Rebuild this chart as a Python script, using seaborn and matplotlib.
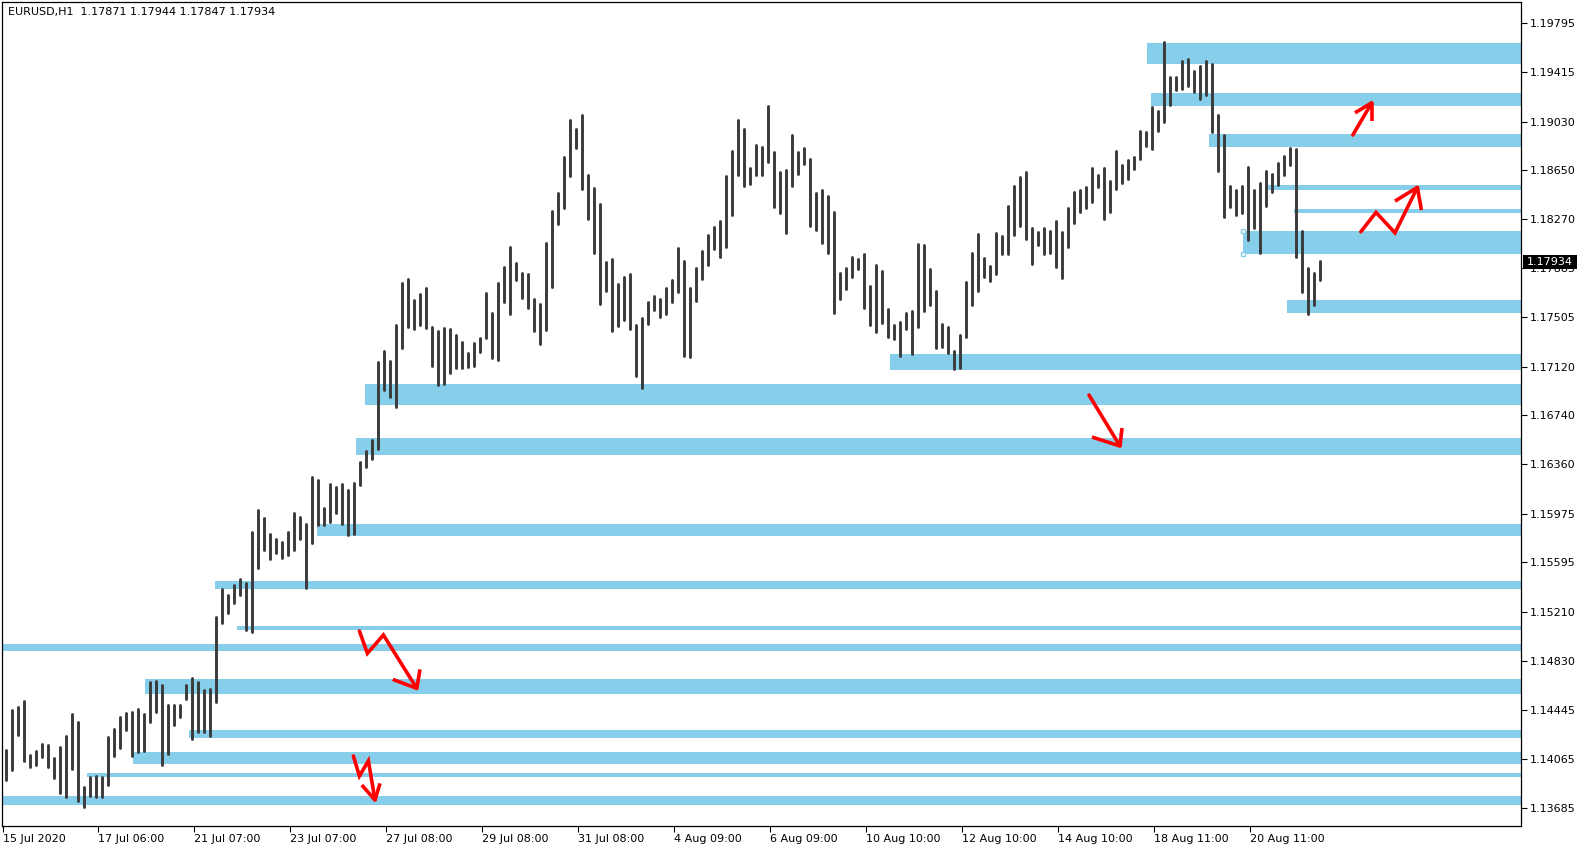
import numpy as np
import pandas as pd
import matplotlib
matplotlib.use("Agg")
import matplotlib.pyplot as plt
import seaborn as sns

# EURUSD H1 chart, bars grouped by 3 hours
symbol_info = "EURUSD,H1  1.17871 1.17944 1.17847 1.17934"
last_close = 1.17934

highs = [
    1.14134, 1.14445, 1.14471, 1.14515, 1.14095, 1.14126, 1.14178, 1.14170, 1.14074, 1.14155,
    1.14243, 1.14416, 1.14352, 1.13846, 1.13923, 1.13929, 1.13923, 1.14238, 1.14297, 1.14391,
    1.14422, 1.14430, 1.14451, 1.14414, 1.14664, 1.14674, 1.14640, 1.14484, 1.14482, 1.14484,
    1.14638, 1.14695, 1.14664, 1.14601, 1.14609, 1.15173, 1.15385, 1.15341, 1.15419, 1.15463,
    1.15437, 1.15834, 1.16003, 1.15938, 1.15816, 1.15780, 1.15757, 1.15832, 1.15982, 1.15946,
    1.15897, 1.16258, 1.16237, 1.16021, 1.16206, 1.16185, 1.16208, 1.16159, 1.16216, 1.16380,
    1.16460, 1.16549, 1.17159, 1.17245, 1.17167, 1.17445, 1.17774, 1.17800, 1.17639, 1.17684,
    1.17733, 1.17432, 1.17400, 1.17418, 1.17413, 1.17366, 1.17312, 1.17229, 1.17307, 1.17345,
    1.17696, 1.17540, 1.17774, 1.17899, 1.18052, 1.17930, 1.17852, 1.17841, 1.17647, 1.17608,
    1.18083, 1.18332, 1.18470, 1.18756, 1.19041, 1.18969, 1.19080, 1.18613, 1.18509, 1.18387,
    1.17932, 1.17958, 1.17761, 1.17818, 1.17841, 1.17444, 1.17499, 1.17623, 1.17670, 1.17647,
    1.17732, 1.17795, 1.18047, 1.17943, 1.17730, 1.17891, 1.18021, 1.18148, 1.18208, 1.18257,
    1.18605, 1.18800, 1.19041, 1.18974, 1.18665, 1.18844, 1.18834, 1.19150, 1.18792, 1.18636,
    1.18652, 1.18924, 1.18795, 1.18823, 1.18737, 1.18470, 1.18496, 1.18449, 1.18325, 1.17849,
    1.17891, 1.17971, 1.17956, 1.17997, 1.17748, 1.17914, 1.17865, 1.17566, 1.17442, 1.17468,
    1.17540, 1.17556, 1.18073, 1.18065, 1.17880, 1.17709, 1.17449, 1.17431, 1.17239, 1.17370,
    1.17782, 1.18008, 1.18154, 1.17964, 1.17907, 1.18161, 1.18138, 1.18372, 1.18528, 1.18600,
    1.18634, 1.18198, 1.18172, 1.18198, 1.18180, 1.18255, 1.18169, 1.18356, 1.18483, 1.18496,
    1.18520, 1.18668, 1.18616, 1.18668, 1.18567, 1.18800, 1.18691, 1.18728, 1.18751, 1.18956,
    1.18951, 1.19143, 1.19112, 1.19647, 1.19379, 1.19377, 1.19502, 1.19517, 1.19424, 1.19463,
    1.19502, 1.19478, 1.19081, 1.18925, 1.18528, 1.18496, 1.18528, 1.18678, 1.18496, 1.18548,
    1.18642, 1.18621, 1.18704, 1.18761, 1.18821, 1.18816, 1.18177, 1.17889, 1.17847, 1.17944,
]
lows = [
    1.13900, 1.13978, 1.14251, 1.14048, 1.14004, 1.14017, 1.14082, 1.13999, 1.13918, 1.13799,
    1.13770, 1.13986, 1.13739, 1.13692, 1.13775, 1.13770, 1.13770, 1.13861, 1.14087, 1.14147,
    1.14290, 1.14090, 1.14116, 1.14129, 1.14352, 1.14432, 1.14019, 1.14103, 1.14331, 1.14393,
    1.14531, 1.14219, 1.14271, 1.14274, 1.14245, 1.14510, 1.15121, 1.15198, 1.15282, 1.15341,
    1.15069, 1.15055, 1.15554, 1.15694, 1.15619, 1.15666, 1.15632, 1.15655, 1.15694, 1.15777,
    1.15393, 1.15749, 1.15889, 1.15889, 1.15910, 1.15983, 1.15892, 1.15806, 1.15819, 1.16201,
    1.16336, 1.16403, 1.16481, 1.16938, 1.16886, 1.16808, 1.17268, 1.17426, 1.17413, 1.17445,
    1.17424, 1.17125, 1.16979, 1.16987, 1.17070, 1.17112, 1.17112, 1.17119, 1.17127, 1.17236,
    1.17340, 1.17190, 1.17174, 1.17626, 1.17532, 1.17795, 1.17652, 1.17577, 1.17395, 1.17299,
    1.17408, 1.17738, 1.18231, 1.18353, 1.18608, 1.18820, 1.18506, 1.18267, 1.18008, 1.17605,
    1.17709, 1.17395, 1.17436, 1.17483, 1.17410, 1.17047, 1.16951, 1.17449, 1.17558, 1.17509,
    1.17530, 1.17626, 1.17704, 1.17205, 1.17197, 1.17631, 1.17805, 1.17912, 1.18039, 1.17977,
    1.18054, 1.18301, 1.18613, 1.18527, 1.18543, 1.18613, 1.18613, 1.18717, 1.18366, 1.18314,
    1.18164, 1.18527, 1.18618, 1.18698, 1.18215, 1.18182, 1.18080, 1.18008, 1.17540, 1.17649,
    1.17725, 1.17816, 1.17883, 1.17579, 1.17441, 1.17392, 1.17457, 1.17348, 1.17338, 1.17203,
    1.17410, 1.17218, 1.17431, 1.17556, 1.17600, 1.17268, 1.17270, 1.17223, 1.17099, 1.17110,
    1.17350, 1.17601, 1.17712, 1.17816, 1.17790, 1.17842, 1.17998, 1.17995, 1.18143, 1.18216,
    1.18117, 1.17920, 1.18065, 1.18000, 1.18008, 1.17899, 1.17808, 1.18055, 1.18237, 1.18328,
    1.18354, 1.18403, 1.18517, 1.18273, 1.18328, 1.18502, 1.18551, 1.18585, 1.18660, 1.18735,
    1.18839, 1.18813, 1.18959, 1.19029, 1.19159, 1.19276, 1.19283, 1.19309, 1.19263, 1.19205,
    1.19237, 1.18951, 1.18647, 1.18289, 1.18361, 1.18302, 1.18315, 1.18107, 1.18198, 1.18008,
    1.18372, 1.18481, 1.18535, 1.18613, 1.18691, 1.17977, 1.17704, 1.17530, 1.17601, 1.17795,
]

date_labels = ["15 Jul 2020", "17 Jul 06:00", "21 Jul 07:00", "23 Jul 07:00", "27 Jul 08:00",
               "29 Jul 08:00", "31 Jul 08:00", "4 Aug 09:00", "6 Aug 09:00", "10 Aug 10:00",
               "12 Aug 10:00", "14 Aug 10:00", "18 Aug 11:00", "20 Aug 11:00"]
price_ticks = [1.13685, 1.14065, 1.14445, 1.14830, 1.15210, 1.15595, 1.15975, 1.16360, 1.16740,
               1.17120, 1.17505, 1.17885, 1.18270, 1.18650, 1.19030, 1.19415, 1.19795]

# supply / demand zones: first hour (bar index), top price, bottom price
zone_start = [571.6, 573.7, 602.5, 630.8, 644.9, 619.7, 641.4, 442.8, 180.5, 175.9,
              156.7, 105.5, 116.5, -1, 70.5, 92.5, 64.5, 41.5, -1]
zone_top = [1.19639, 1.19250, 1.18934, 1.18537, 1.18347, 1.18178, 1.17642, 1.17219, 1.16987, 1.16565,
            1.15893, 1.15450, 1.15100, 1.14960, 1.14686, 1.14289, 1.14120, 1.13951, 1.13778]
zone_bottom = [1.19478, 1.19149, 1.18828, 1.18495, 1.18321, 1.18000, 1.17536, 1.17093, 1.16818, 1.16430,
               1.15805, 1.15387, 1.15066, 1.14905, 1.14572, 1.14226, 1.14023, 1.13926, 1.13702]
selected_zone = 5

# hand drawn red arrows: (hour index, price) path, tip is the last point
arrow_paths = [
    [(674.4, 1.18925), (683.9, 1.19176)],
    [(678.4, 1.18171), (686.0, 1.18322), (695.5, 1.18163), (706.7, 1.18517)],
    [(542.5, 1.16899), (558.0, 1.16502)],
    [(177.7, 1.15061), (181.7, 1.14887), (189.7, 1.15030), (206.4, 1.14614)],
    [(174.7, 1.14087), (177.7, 1.13931), (182.2, 1.14050), (185.5, 1.13744)],
]
arrow_heads = [
    [(675.5, 1.19098), (683.9, 1.19036)],
    [(695.5, 1.18410), (708.7, 1.18340)],
    [(544.0, 1.16572), (559.0, 1.16642)],
    [(194.4, 1.14684), (208.0, 1.14762)],
    [(178.9, 1.13861), (188.0, 1.13874)],
]

sns.set_style("white")
plt.rcParams["font.family"] = ["DejaVu Sans"]
plt.rcParams["font.size"] = 8

W, H = 1585, 850
fig = plt.figure(figsize=(W / 100, H / 100), dpi=100)
ax = fig.add_axes([2 / W, 24 / H, 1519 / W, 824 / H])

x_left, x_right = -1, 758.5
y_low, y_high = 1.13542, 1.19961
ax.set_xlim(x_left, x_right)
ax.set_ylim(y_low, y_high)

# zones
zone_color = "#87ceeb"
for s, t, b in zip(zone_start, zone_top, zone_bottom):
    ax.barh(b, x_right - s, left=s, height=t - b, align="edge",
            color=zone_color, linewidth=0, zorder=1)
s, t, b = zone_start[selected_zone], zone_top[selected_zone], zone_bottom[selected_zone]
ax.plot([s, s], [t, b], ls="none", marker="s", ms=3.5, mfc="white",
        mec=zone_color, mew=1, zorder=3, clip_on=False)

# price bars (high-low)
n = len(highs)
bars = pd.DataFrame({
    "bar": np.repeat(np.arange(n), 2),
    "x": np.repeat(3 * np.arange(n) + 1, 2),
    "price": np.column_stack([lows, highs]).ravel(),
})
sns.lineplot(data=bars, x="x", y="price", units="bar", estimator=None, sort=False,
             color="#3a3a3a", linewidth=2.1, legend=False, ax=ax, zorder=2)

# red arrows
for path, head in zip(arrow_paths, arrow_heads):
    px, py = zip(*path)
    ax.plot(px, py, color="#ff0000", lw=2.6, solid_joinstyle="miter", zorder=4)
    tip = path[-1]
    for hx, hy in head:
        ax.plot([tip[0], hx], [tip[1], hy], color="#ff0000", lw=2.6,
                solid_capstyle="butt", zorder=4)

# axes cosmetics
ax.set_xlabel("")
ax.set_ylabel("")
ax.set_xticks([-0.5] + [47 + 48 * k for k in range(len(date_labels) - 1)])
ax.set_xticklabels(date_labels, ha="left")
ax.yaxis.tick_right()
ax.set_yticks(price_ticks)
ax.set_yticklabels([f"{p:.5f}" for p in price_ticks])
ax.tick_params(axis="x", direction="out", length=4, width=0.8, pad=1.5, colors="black",
               labelsize=8, bottom=True)
ax.tick_params(axis="y", direction="out", length=4, width=0.8, pad=2.5, colors="black",
               labelsize=8, right=True, left=False)
for sp in ax.spines.values():
    sp.set_visible(True)
    sp.set_color("black")
    sp.set_linewidth(0.9)

ax.text(6 / 1519, 1 - 10 / 824, symbol_info, transform=ax.transAxes,
        ha="left", va="center", fontsize=8, color="black")

# current price tag on the price scale
tag_h = 14 * (y_high - y_low) / 824
ax.add_patch(plt.Rectangle((1 + 2 / 1519, last_close - tag_h / 2), 54 / 1519, tag_h,
                           transform=ax.get_yaxis_transform(), facecolor="black",
                           edgecolor="none", clip_on=False, zorder=10))
ax.text(1 + 6 / 1519, last_close, f"{last_close:.5f}", transform=ax.get_yaxis_transform(),
        ha="left", va="center", color="white", fontsize=8, zorder=11, clip_on=False)

fig.savefig("out.png", dpi=100, facecolor="white")
